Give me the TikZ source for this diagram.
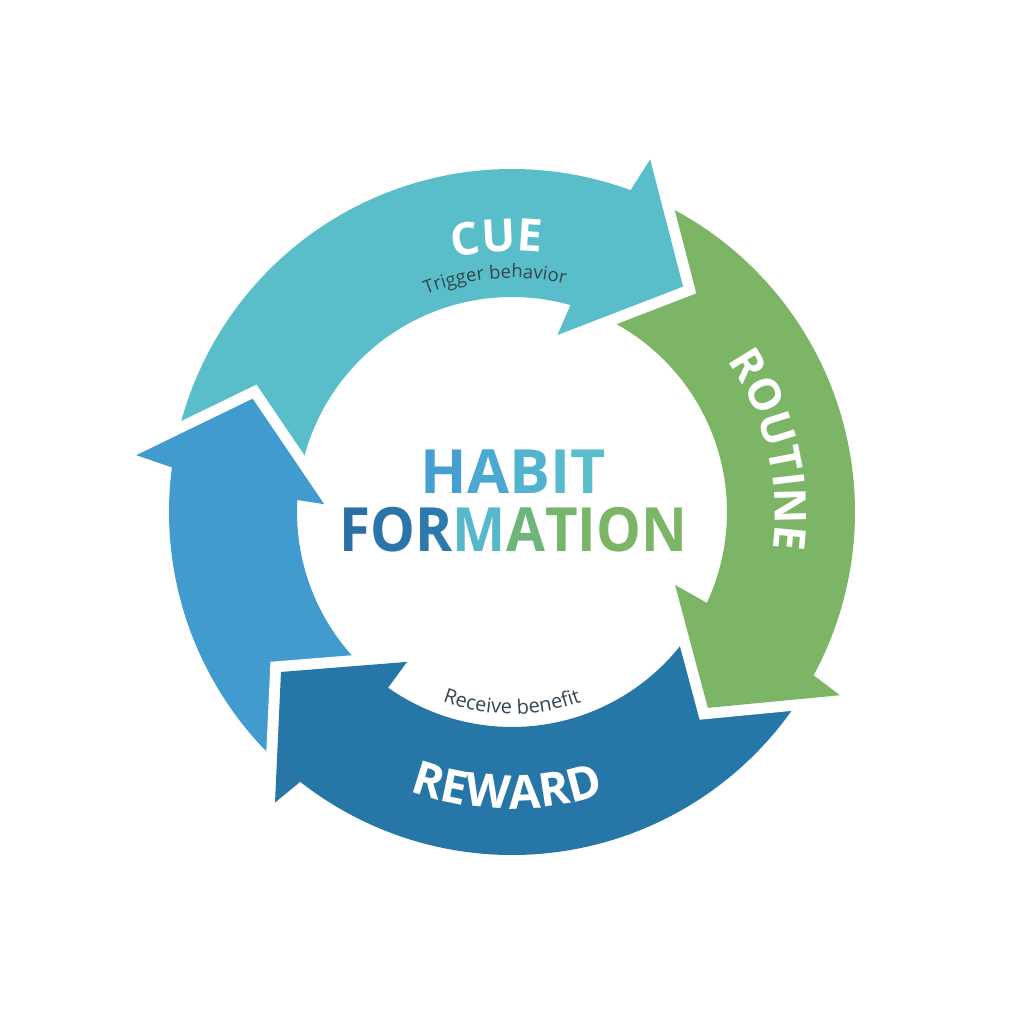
\documentclass[tikz,border=0pt]{standalone}
\usepackage{fontspec}
\setmainfont{Open Sans}
\usetikzlibrary{decorations.text}
\definecolor{cuecol}{HTML}{5ABECA}
\definecolor{routcol}{HTML}{7CB566}
\definecolor{rewcol}{HTML}{2676A8}
\definecolor{habcol}{HTML}{419BCE}
\definecolor{smalltxt}{HTML}{34474F}
\definecolor{hA}{HTML}{469FD3}
\definecolor{hB}{HTML}{4BA8D2}
\definecolor{hC}{HTML}{52B3D0}
\definecolor{hD}{HTML}{57BACE}
\definecolor{hE}{HTML}{5BBFCB}
\definecolor{fA}{HTML}{2A6FA8}
\definecolor{fB}{HTML}{2B74AA}
\definecolor{fC}{HTML}{2C79AC}
\definecolor{fD}{HTML}{55B8CB}
\definecolor{fE}{HTML}{6DB57A}
\definecolor{fF}{HTML}{76B56C}
\definecolor{fG}{HTML}{7BB567}
\definecolor{fH}{HTML}{7CB566}
\tikzset{
  gapline/.style={draw=white, line width=22pt, line join=miter},
}
\begin{document}
\begin{tikzpicture}[x=1pt,y=1pt]
\useasboundingbox (-512,-512) rectangle (512,512);
\fill[white] (-512,-512) rectangle (512,512);

% ---- bodies ----
\fill[cuecol] (171:343pt) arc[start angle=171, end angle=68.7, radius=343pt]
  -- (73.2:215pt) arc[start angle=73.2, end angle=175.3, radius=215pt] -- cycle;
\fill[routcol] (68.2:343pt) arc[start angle=68.2, end angle=-29.4, radius=343pt]
  -- (-26:215pt) arc[start angle=-26, end angle=72.7, radius=215pt] -- cycle;
\fill[rewcol] (-29.9:343pt) arc[start angle=-29.9, end angle=-129.2, radius=343pt]
  -- (-126.2:215pt) arc[start angle=-126.2, end angle=-26.5, radius=215pt] -- cycle;
\fill[habcol] (230.3:343pt) arc[start angle=230.3, end angle=171.5, radius=343pt]
  -- (175.8:215pt) arc[start angle=175.8, end angle=233.3, radius=215pt] -- cycle;

% ---- heads ----
\path[gapline] (68.6:378.7pt) -- (52.8:283pt) -- (75.6:182.7pt);
\fill[cuecol] (69.7:345pt) -- (68.6:378.7pt) -- (52.8:283pt) -- (75.6:182.7pt) -- (74.2:216pt) -- cycle;

\path[gapline] (-29.2:375.6pt) -- (-45:277pt) -- (-24.1:178.6pt);
\fill[routcol] (-28.4:342pt) -- (-29.2:375.6pt) -- (-45:277pt) -- (-24.1:178.6pt) -- (-25:215pt) -- cycle;

\path[gapline] (230.8:375pt) -- (214.7:281pt) -- (235:183pt);
\fill[rewcol] (231.8:345pt) -- (230.8:375pt) -- (214.7:281pt) -- (235:183pt) -- (234.8:217pt) -- cycle;

\path[gapline] (171.4:380pt) -- (156.4:283pt) -- (177.6:188pt);
\fill[habcol] (172.5:344pt) -- (171.4:380pt) -- (156.4:283pt) -- (177.6:188pt) -- (176.8:215pt) -- cycle;

% ---- curved labels ----
\path[decorate, decoration={text along path, text align=center,
  text={|\fontsize{45}{54}\selectfont\bfseries\color{white}|CUE}}]
  (123.2:261pt) arc[start angle=123.2, end angle=63.2, radius=261pt];
\path[decorate, decoration={text along path, text align=center,
  text={|\fontsize{18.5}{22}\selectfont\color{smalltxt}|Trigger behavior}}]
  (134.2:234pt) arc[start angle=134.2, end angle=54.2, radius=234pt];
\path[decorate, decoration={text along path, text align=center,
  text={|\fontsize{44}{54}\selectfont\bfseries\color{white}|ROUTINE}}]
  (53.5:263pt) arc[start angle=53.5, end angle=-26.5, radius=263pt];
\path[decorate, decoration={text along path, text align=center,
  text={|\fontsize{46.5}{54}\selectfont\bfseries\color{white}|REWARD}}]
  (-126:297pt) arc[start angle=-126, end angle=-56, radius=297pt];
\path[decorate, decoration={text along path, text align=center,
  text={|\fontsize{20}{24}\selectfont\color{smalltxt}|Receive benefit}}]
  (-130:202pt) arc[start angle=-130, end angle=-50, radius=202pt];

% ---- centre title ----
\node[anchor=base, inner sep=0pt, font=\fontsize{61}{70}\selectfont\bfseries] (habit) at (1,18)
  {\textcolor{hA}{H}\textcolor{hB}{A}\textcolor{hC}{B}\textcolor{hD}{I}\textcolor{hE}{T}};
\node[anchor=base, inner sep=0pt, xscale=0.925, font=\fontsize{61}{70}\selectfont\bfseries] (formation) at (1.5,-40)
  {\textcolor{fA}{F}\textcolor{fB}{O}\textcolor{fC}{R}\textcolor{fD}{M}\textcolor{fE}{A}\textcolor{fF}{T}\textcolor{fG}{I}\textcolor{fH}{O}\textcolor{fH}{N}};
\end{tikzpicture}
\end{document}
